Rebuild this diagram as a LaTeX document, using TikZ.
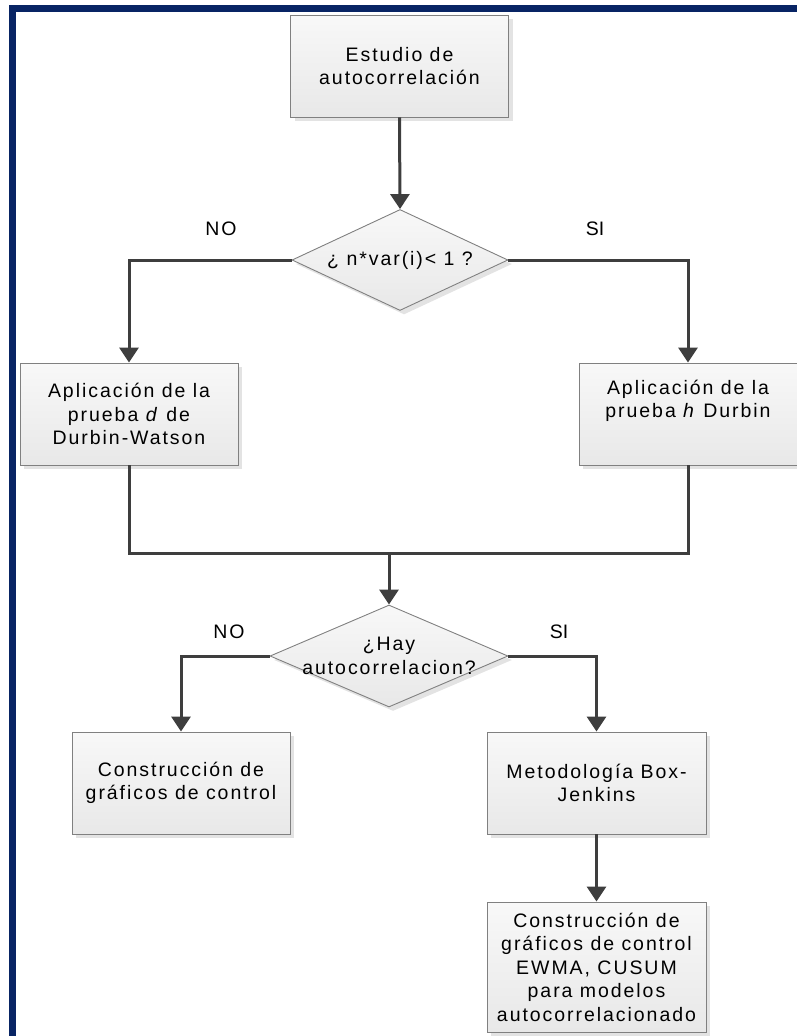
\documentclass[tikz,border=0pt]{standalone}
\usepackage{fontspec}
\setmainfont{Liberation Sans}[LetterSpace=10]
\newfontfamily\tightfont{Liberation Sans}
\usetikzlibrary{arrows.meta,shapes.geometric,shadows}

\definecolor{frameblue}{RGB}{8,36,100}
\definecolor{edgegray}{RGB}{128,128,128}
\definecolor{linegray}{RGB}{62,62,62}
\definecolor{filltop}{RGB}{248,248,248}
\definecolor{fillbot}{RGB}{232,232,232}

\tikzset{
  shapeshadow/.style={drop shadow={shadow xshift=4pt, shadow yshift=-4pt, fill=black!11, opacity=1}},
  procbox/.style={rectangle, draw=edgegray, line width=0.9pt, top color=filltop, bottom color=fillbot,
    minimum width=218pt, minimum height=102pt, inner sep=0pt, align=center, shapeshadow},
  decision/.style={diamond, draw=edgegray, line width=0.9pt, top color=filltop, bottom color=fillbot,
    inner sep=0pt, shapeshadow},
  flow/.style={draw=linegray, line width=3pt, -{Triangle[length=15pt,width=19pt]}},
  joinline/.style={draw=linegray, line width=3pt},
  branch/.style={inner sep=0pt}
}

\begin{document}
\begin{tikzpicture}[x=1pt, y=-1pt, font=\fontsize{19.5}{23.5}\selectfont, text=black]
\useasboundingbox (0,0) rectangle (797,1036);

% outer frame (top and left edges)
\draw[frameblue, line width=6.5pt, line join=miter] (12.3,1036) -- (12.3,8.5) -- (797,8.5);

% process boxes
\node[procbox] (b1) at (399.5,66) {Estudio de\\autocorrelación};
\node[procbox] (b2) at (129,414) {Aplicación de la\\prueba \textit{d} de\\Durbin-Watson};
\node[procbox] (b3) at (688,414) {Aplicación de la\\prueba \textit{h} Durbin\\\strut};
\node[procbox] (b4) at (181,783) {Construcción de\\gráficos de control};
\node[procbox, minimum width=219pt] (b5) at (596.5,783) {Metodología Box-\\Jenkins};
\node[procbox, minimum width=219pt, minimum height=130pt] (b6) at (596.5,967)
  {Construcción de\\gráficos de control\\EWMA, CUSUM\\para modelos\\autocorrelacionado};

% decisions
\node[decision, minimum width=216pt, minimum height=101pt,
  label={[name=d1t]center:¿ n*var(i)< 1 ?}] (d1) at (400,260) {};
\node[decision, minimum width=238pt, minimum height=102pt,
  label={[name=d2t, align=center]center:{¿Hay\\autocorrelacion?}}] (d2) at (389,656) {};

% branch labels
\node[branch] (no1) at (221,229) {NO};
\node[branch, font=\tightfont\fontsize{19.5}{23.5}\selectfont] (si1) at (595,229) {SI};
\node[branch] (no2) at (229,632) {NO};
\node[branch, font=\tightfont\fontsize{19.5}{23.5}\selectfont] (si2) at (559,632) {SI};

% connectors
\coordinate (m) at (389,553);
\path[flow] (b1.south) -- (d1.north);
\path[flow] (d1.west) -| (b2.north);
\path[flow] (d1.east) -| (b3.north);
\path[joinline] (b2.south) |- (m);
\path[joinline] (b3.south) |- (m);
\path[flow] (m) -- (d2.north);
\path[flow] (d2.west) -| (b4.north);
\path[flow] (d2.east) -| (b5.north);
\path[flow] (b5.south) -- (b6.north);
\end{tikzpicture}
\end{document}
